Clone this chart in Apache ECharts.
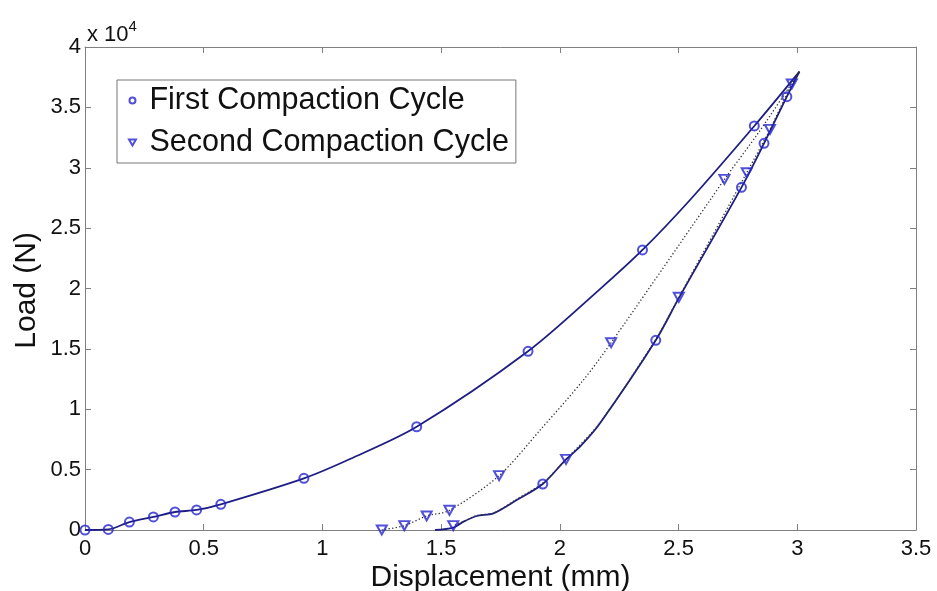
<!DOCTYPE html>
<html>
<head>
<meta charset="utf-8">
<script src="https://cdn.jsdelivr.net/npm/echarts@6/dist/echarts.min.js"></script>
<style>
html,body{margin:0;padding:0;background:#fff;}
#chart{width:937px;height:591px;}
</style>
</head>
<body>
<div id="chart"></div>
<script>
// Displacement in mm, load in N (axis shows x 10^4)
const c1LoadDisp = [0, 0.098, 0.187, 0.288, 0.379, 0.470, 0.572, 0.922, 1.116, 1.397, 1.866, 2.169, 2.348, 2.548, 2.819, 3.009];
const c1LoadN    = [0, 50, 660, 1080, 1490, 1660, 2130, 4280, 5880, 8550, 14800, 19950, 23190, 27330, 33460, 37960];

const c1UnloadDisp = [3.009, 2.956, 2.860, 2.765, 2.501, 2.404, 2.169, 2.085, 2.026, 1.928, 1.818, 1.720, 1.650, 1.594, 1.551, 1.474];
const c1UnloadN    = [37960, 35890, 32020, 28380, 19200, 15710, 8840, 6900, 5850, 3810, 2480, 1380, 1160, 690, 200, 0];

const c2LoadDisp = [1.250, 1.345, 1.439, 1.535, 1.744, 1.917, 2.099, 2.216, 2.633, 2.693, 2.840, 3.009];
const c2LoadN    = [0, 360, 1160, 1630, 4500, 8280, 12420, 15510, 27330, 29040, 33000, 37960];

const c2UnloadDisp = [3.009, 2.977, 2.885, 2.787, 2.501, 2.404, 2.169, 2.026, 1.928, 1.818, 1.720, 1.650, 1.594, 1.551];
const c2UnloadN    = [37960, 36940, 33180, 29590, 19270, 15800, 8900, 5850, 3900, 2550, 1400, 1200, 700, 360];

const c1MarkDisp = [0, 0.098, 0.187, 0.288, 0.379, 0.470, 0.572, 0.922, 1.397, 1.866, 2.348, 2.819, 2.956, 2.860, 2.765, 2.404, 1.928];
const c1MarkN    = [0, 50, 660, 1080, 1490, 1660, 2130, 4280, 8550, 14800, 23190, 33460, 35890, 32020, 28380, 15710, 3810];

const c2MarkDisp = [1.250, 1.345, 1.439, 1.535, 1.744, 2.216, 2.693, 2.977, 2.885, 2.787, 2.501, 2.026, 1.551];
const c2MarkN    = [0, 360, 1160, 1630, 4500, 15510, 29040, 36940, 33180, 29590, 19270, 5850, 360];

const xTicks = [0, 0.5, 1, 1.5, 2, 2.5, 3, 3.5];
const yTicksE4 = [0, 0.5, 1, 1.5, 2, 2.5, 3, 3.5, 4];

const seriesNames = ['First Compaction Cycle', 'Second Compaction Cycle'];
const xTitle = 'Displacement (mm)';
const yTitle = 'Load (N)';

function zip(a, b) { return a.map((v, i) => [v, b[i]]); }

const FONT = 'Liberation Sans';
const FRAME = '#808080';
const LINE = '#1e1e82';
const MARK = '#2424d0';
const TRI = 'path://M0,0L10,0L5,8.66Z';

const chart = echarts.init(document.getElementById('chart'), null, {renderer: 'canvas'});

function xAx(pos, show) {
  return {
    type: 'value', position: pos, min: xTicks[0], max: xTicks[xTicks.length - 1],
    interval: xTicks[1] - xTicks[0],
    axisLine: {show: true, onZero: false, lineStyle: {color: FRAME, width: 1}},
    axisTick: {show: true, inside: true, length: 6, lineStyle: {color: FRAME}},
    axisLabel: {show: show, margin: 8, fontSize: 22, fontFamily: FONT, color: '#111',
      showMinLabel: true, showMaxLabel: true},
    splitLine: {show: false},
    name: show ? xTitle : '', nameLocation: 'middle', nameGap: 33, nameMoveOverlap: false,
    nameTextStyle: {fontSize: 30, fontFamily: FONT, color: '#111', verticalAlign: 'top'}
  };
}
function yAx(pos, show) {
  return {
    type: 'value', position: pos, min: yTicksE4[0] * 1e4, max: yTicksE4[yTicksE4.length - 1] * 1e4,
    interval: (yTicksE4[1] - yTicksE4[0]) * 1e4,
    axisLine: {show: true, onZero: false, lineStyle: {color: FRAME, width: 1}},
    axisTick: {show: true, inside: true, length: 6, lineStyle: {color: FRAME}},
    axisLabel: {show: show, margin: 4, fontSize: 22, fontFamily: FONT, color: '#111',
      showMinLabel: true, showMaxLabel: true,
      formatter: v => String(+(v / 1e4).toFixed(2))},
    splitLine: {show: false}
  };
}

const yMain = yAx('left', true);

const option = {
  animation: false,
  backgroundColor: '#fff',
  grid: {left: 85, right: 21, top: 47, bottom: 61, containLabel: false, outerBoundsMode: 'none'},
  xAxis: [xAx('bottom', true), xAx('top', false)],
  yAxis: [
    Object.assign(yMain, {
      name: '{a|x 10}{b|4}', nameLocation: 'end', nameGap: 1, nameMoveOverlap: false,
      nameTextStyle: {align: 'left', verticalAlign: 'bottom', padding: [0, 0, 0, 2],
        rich: {
          a: {fontSize: 22, fontFamily: FONT, color: '#111', verticalAlign: 'bottom'},
          b: {fontSize: 15, fontFamily: FONT, color: '#111', verticalAlign: 'top', padding: [0, 0, 12, 0]}
        }}
    }),
    yAx('right', false)
  ],
  graphic: [{
    type: 'text', left: 12, top: 232, rotation: Math.PI / 2,
    style: {text: yTitle, fontSize: 30, fontFamily: FONT, fill: '#111'}
  }],
  legend: {
    left: 117, top: 80, orient: 'vertical', padding: [5, 7, 5, 11], itemGap: 11,
    itemWidth: 24, itemHeight: 6, borderColor: '#777', borderWidth: 1, backgroundColor: '#fff',
    selectedMode: false,
    textStyle: {fontSize: 30.5, fontFamily: FONT, color: '#111'},
    data: [{name: seriesNames[0], icon: 'circle'}, {name: seriesNames[1], icon: TRI}]
  },
  series: [
    {type: 'line', name: 'c1load', data: zip(c1LoadDisp, c1LoadN), smooth: 0.3, showSymbol: false,
      lineStyle: {color: LINE, width: 1.8}, z: 3, silent: true},
    {type: 'line', name: 'c1unload', data: zip(c1UnloadDisp, c1UnloadN), smooth: 0.3, showSymbol: false,
      lineStyle: {color: LINE, width: 1.8}, z: 3, silent: true},
    {type: 'line', name: 'c2load', data: zip(c2LoadDisp, c2LoadN), smooth: 0.3, showSymbol: false,
      lineStyle: {color: '#333', width: 1.3, type: [1.3, 2.2]}, z: 3, silent: true},
    {type: 'line', name: 'c2unload', data: zip(c2UnloadDisp, c2UnloadN), smooth: 0.3, showSymbol: false,
      lineStyle: {color: '#333', width: 1.3, type: [1.3, 2.2]}, z: 3, silent: true},
    {type: 'scatter', name: seriesNames[0], data: zip(c1MarkDisp, c1MarkN), symbol: 'circle', symbolSize: 9,
      itemStyle: {color: 'rgba(0,0,0,0)', borderColor: MARK, borderWidth: 2}, z: 5, silent: true},
    {type: 'scatter', name: seriesNames[1], data: zip(c2MarkDisp, c2MarkN), symbol: TRI, symbolSize: [10, 9],
      itemStyle: {color: 'rgba(0,0,0,0)', borderColor: MARK, borderWidth: 2}, z: 5, silent: true}
  ]
};
chart.setOption(option);
</script>
</body>
</html>
